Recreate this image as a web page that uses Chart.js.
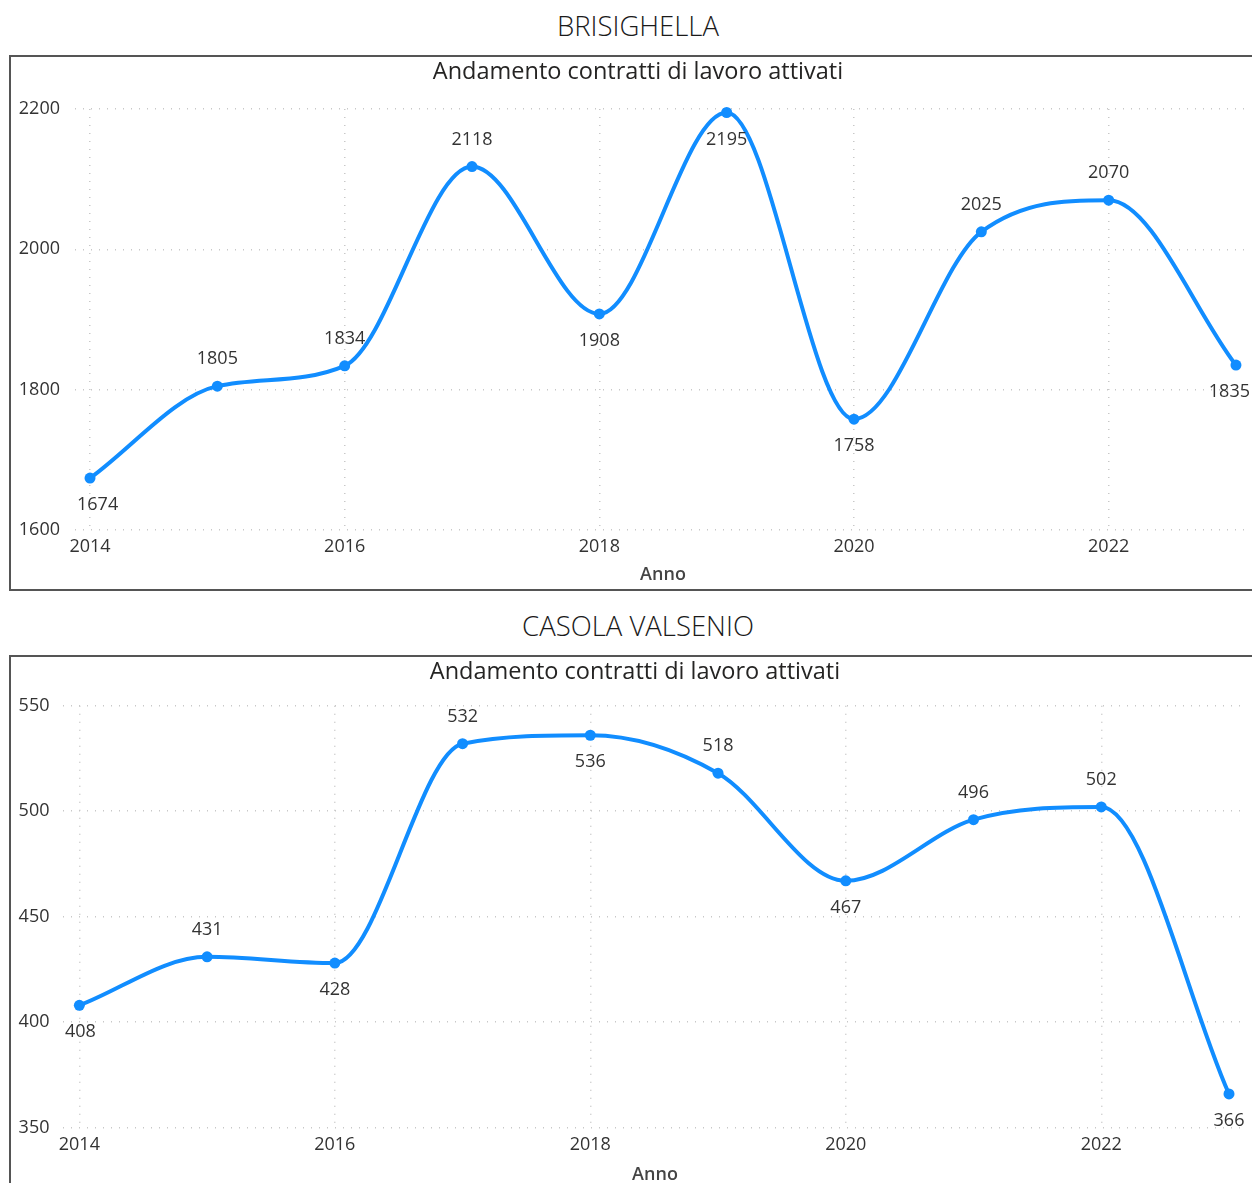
<!DOCTYPE html>
<html><head><meta charset="utf-8">
<script src="https://cdn.jsdelivr.net/npm/chart.js@4.4.1/dist/chart.umd.min.js"></script>
<style>
html,body{margin:0;padding:0;background:#fff;overflow:hidden;width:1252px;height:1183px;position:relative;}
.hdr{position:absolute;left:0;width:1276px;text-align:center;font-family:'Open Sans',sans-serif;font-weight:300;font-size:27.5px;color:#1a1a1a;line-height:30px;}
.box{position:absolute;left:9px;border:2px solid #555;}
.box canvas{display:block;}
</style></head>
<body>
<div class="hdr" style="top:11px">BRISIGHELLA</div>
<div class="box" style="top:55px;width:1254px;height:532px"><canvas id="c1" width="1254" height="532"></canvas></div>
<div class="hdr" style="top:611px">CASOLA VALSENIO</div>
<div class="box" style="top:655px;width:1248px;height:532px"><canvas id="c2" width="1248" height="532"></canvas></div>
<script>
// ---- data ----
const years = [2014, 2015, 2016, 2017, 2018, 2019, 2020, 2021, 2022, 2023];
const brisighellaValues = [1674, 1805, 1834, 2118, 1908, 2195, 1758, 2025, 2070, 1835];
const casolaValues = [408, 431, 428, 532, 536, 518, 467, 496, 502, 366];
const xTickYears = [2014, 2016, 2018, 2020, 2022];
const brisighellaYTicks = [1600, 1800, 2000, 2200];
const casolaYTicks = [350, 400, 450, 500, 550];
const brisighellaLabelSide = ['below','above','above','above','below','below','below','above','above','below'];
const casolaLabelSide = ['below','above','below','above','below','above','below','above','above','below'];
const chartTitle = 'Andamento contratti di lavoro attivati';
const xTitle = 'Anno';

const FONT = "'Open Sans', 'Noto Sans', sans-serif";
const BLUE = '#118DFF';

const dataLabelPlugin = {
  id: 'pointLabels',
  afterLayout(chart) {
    // centre the chart title on the whole canvas, as in the reference
    const t = chart.titleBlock;
    if (t) { t.left = 0; t.right = chart.width; t.width = chart.width; }
  },
  afterDatasetsDraw(chart, args, opts) {
    const ctx = chart.ctx;
    const meta = chart.getDatasetMeta(0);
    const ds = chart.data.datasets[0];
    ctx.save();
    ctx.font = opts.fontSize + 'px ' + FONT;
    ctx.fillStyle = '#333333';
    ctx.textAlign = 'center';
    ctx.textBaseline = 'middle';
    meta.data.forEach((pt, i) => {
      const text = String(ds.data[i].y);
      const w = ctx.measureText(text).width;
      let x = pt.x;
      if (x + w / 2 > opts.maxRight) x = opts.maxRight - w / 2;
      const minLeft = chart.chartArea.left + 2;
      if (x - w / 2 < minLeft) x = minLeft + w / 2;
      const y = opts.sides[i] === 'above' ? pt.y - opts.offset : pt.y + opts.offset;
      ctx.fillText(text, x, y);
    });
    ctx.restore();
  }
};

function makeChart(id, values, yTicks, sides, o) {
  const pts = years.map((yr, i) => ({x: yr, y: values[i]}));
  return new Chart(document.getElementById(id), {
    type: 'line',
    data: { datasets: [{
      data: pts,
      borderColor: BLUE, backgroundColor: BLUE,
      borderWidth: 4, pointRadius: 5.5, pointHoverRadius: 5.5,
      pointBackgroundColor: BLUE, pointBorderWidth: 0,
      cubicInterpolationMode: 'monotone', clip: false, fill: false
    }]},
    options: {
      responsive: false, animation: false,
      layout: { padding: { left: 0, right: o.padRight, top: 0, bottom: 0 } },
      plugins: {
        legend: { display: false }, tooltip: { enabled: false },
        title: { display: true, text: chartTitle, color: '#252423',
          font: { family: FONT, size: 23.5, weight: 'normal' }, lineHeight: 1.2,
          padding: { top: 1, bottom: o.titleBottom } },
        pointLabels: { sides: sides, offset: 27, fontSize: 18, maxRight: 1239 }
      },
      scales: {
        x: {
          type: 'linear', min: o.xMin, max: o.xMax,
          afterBuildTicks: s => { s.ticks = xTickYears.map(v => ({value: v})); },
          afterFit: s => { s.height = o.xHeight; },
          ticks: { callback: v => String(v), color: '#333333', padding: 6, maxRotation: 0,
            font: { family: FONT, size: 18 } },
          grid: { drawTicks: false, color: '#c8c8c8', lineWidth: 1.5 },
          border: { display: false, dash: [1, 7] },
          title: { display: true, text: xTitle, color: '#444444',
            font: { family: FONT, size: 18, weight: '600' }, padding: { top: 0, bottom: 3 } }
        },
        y: {
          min: yTicks[0], max: yTicks[yTicks.length - 1],
          afterBuildTicks: s => { s.ticks = yTicks.map(v => ({value: v})); },
          afterFit: s => { s.width = o.yWidth; },
          ticks: { callback: v => String(v), color: '#333333', padding: o.yPad,
            font: { family: FONT, size: 18 } },
          grid: { drawTicks: false, color: '#c8c8c8', lineWidth: 1.5 },
          border: { display: false, dash: [1, 7] }
        }
      }
    },
    plugins: [dataLabelPlugin]
  });
}

makeChart('c1', brisighellaValues, brisighellaYTicks, brisighellaLabelSide,
  { padRight: 14, titleBottom: 22.8, xHeight: 59, yWidth: 64, yPad: 15,
    xMin: 2013.882, xMax: 2023.118 });
makeChart('c2', casolaValues, casolaYTicks, casolaLabelSide,
  { padRight: 12, titleBottom: 19.5, xHeight: 61.3, yWidth: 52, yPad: 13.5,
    xMin: 2013.872, xMax: 2023.141 });
</script>
</body></html>
